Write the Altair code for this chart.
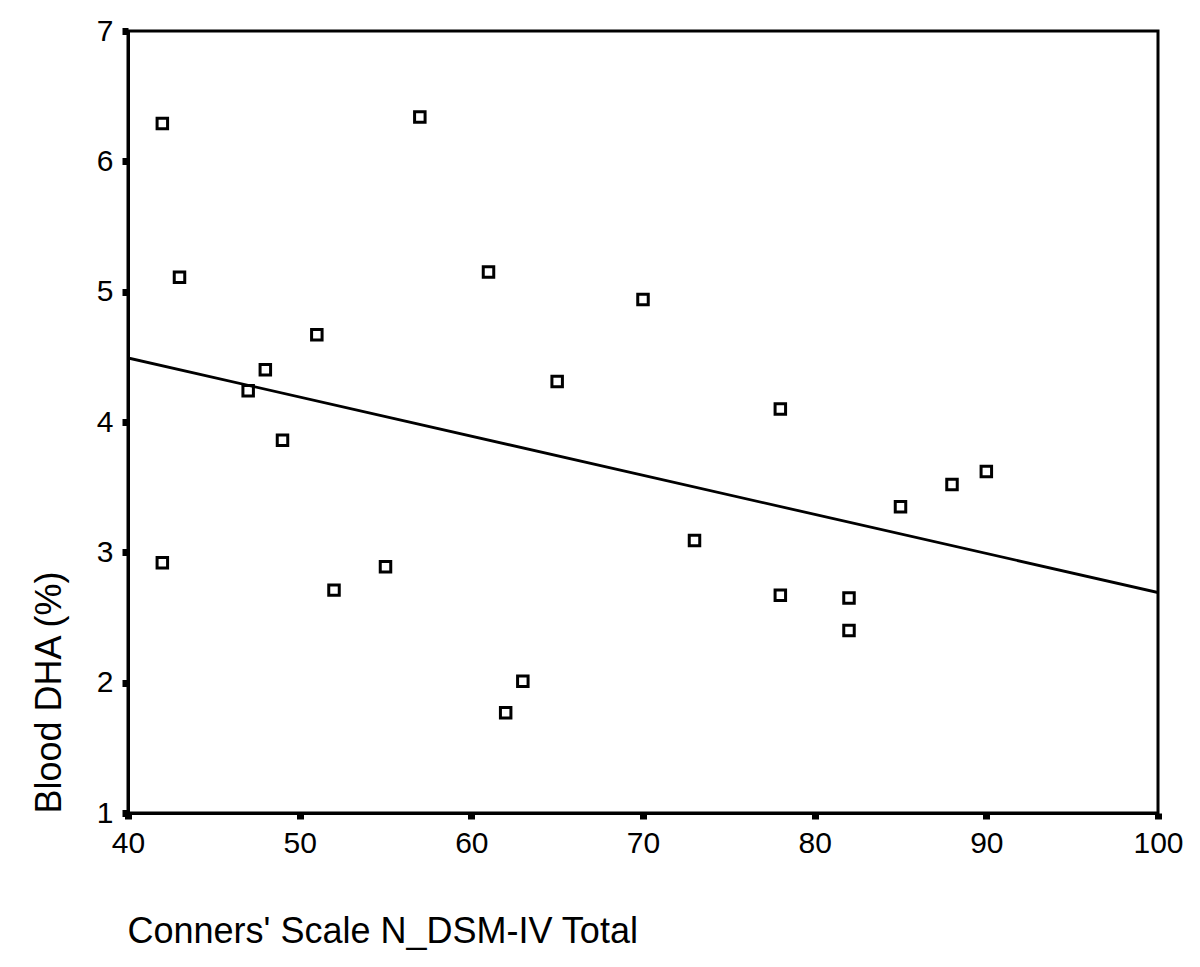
import altair as alt
import pandas as pd

conners = [42, 43, 57, 61, 70, 51, 48, 47, 65, 49, 78, 90, 88, 85, 73,
           42, 55, 52, 78, 82, 82, 63, 62]
dha = [6.29, 5.11, 6.34, 5.15, 4.94, 4.67, 4.40, 4.24, 4.31, 3.86, 4.10, 3.62,
       3.52, 3.35, 3.09, 2.92, 2.89, 2.71, 2.67, 2.65, 2.40, 2.01, 1.77]
x_ticks = [40, 50, 60, 70, 80, 90, 100]
y_ticks = [1, 2, 3, 4, 5, 6, 7]

df = pd.DataFrame({"conners": conners, "dha": dha})

FONT = "Liberation Sans"
W, H = 1030, 782

xscale = alt.Scale(domain=[40, 100], nice=False, zero=False)
yscale = alt.Scale(domain=[1, 7], nice=False, zero=False)

xaxis = alt.Axis(
    values=x_ticks, format="d", title="Conners' Scale N_DSM-IV Total", grid=False,
    domainColor="black", domainWidth=3, tickColor="black", tickWidth=7,
    tickSize=6, labelFont=FONT, labelFontSize=30, labelColor="black",
    labelPadding=9, labelFlush=False, labelOverlap=False,
    titleFont=FONT, titleFontSize=36, titleFontWeight="normal",
    titleColor="black", titleX=-1, titleY=118, titleAlign="left",
    titleBaseline="middle", titleAnchor="start",
)
yaxis = alt.Axis(
    values=y_ticks, format="d", title="Blood DHA (%)", grid=False,
    domainColor="black", domainWidth=3, tickColor="black", tickWidth=7,
    tickSize=6, labelFont=FONT, labelFontSize=30, labelColor="black",
    labelPadding=9, labelFlush=False, labelOverlap=False,
    titleFont=FONT, titleFontSize=36, titleFontWeight="normal",
    titleColor="black", titleX=-79, titleY=H, titleAngle=-90, titleAlign="left",
    titleBaseline="middle", titleAnchor="start",
)

base = alt.Chart(df)

points = base.mark_point(
    shape="square", size=110, filled=False, stroke="black", strokeWidth=3,
    opacity=1,
).encode(
    x=alt.X("conners:Q", scale=xscale, axis=xaxis),
    y=alt.Y("dha:Q", scale=yscale, axis=yaxis),
)

line = base.transform_regression(
    "conners", "dha", extent=[40, 100]
).mark_line(color="black", strokeWidth=2.8, clip=True).encode(
    x=alt.X("conners:Q", scale=xscale),
    y=alt.Y("dha:Q", scale=yscale),
)

chart = alt.layer(line, points).properties(
    width=W, height=H,
    autosize=alt.AutoSizeParams(type="none"),
    padding={"left": 120, "top": 23, "right": 26, "bottom": 146},
    background="white",
).configure_view(stroke="black", strokeWidth=3)

chart.save("out.html", embed_options={"renderer": "svg", "actions": False})
